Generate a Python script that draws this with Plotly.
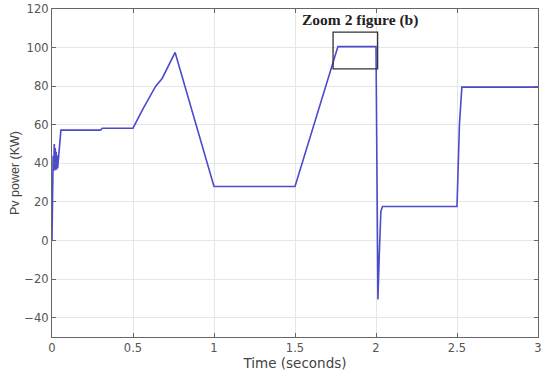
import plotly.graph_objects as go

# PV power trace (time in seconds, power in kW)
time_s = [0.0, 0.003, 0.007, 0.011, 0.014, 0.017, 0.020, 0.023, 0.026, 0.029,
          0.032, 0.035, 0.045, 0.055, 0.30, 0.31, 0.50, 0.56, 0.64, 0.68,
          0.76, 1.0, 1.5, 1.755, 1.765, 2.0, 2.006, 2.012, 2.02, 2.03,
          2.04, 2.50, 2.515, 2.53, 3.0]
power_kw = [0.0, 30.0, 44.0, 36.0, 50.0, 37.0, 48.0, 36.5, 46.0, 37.0,
            44.0, 37.5, 50.0, 57.2, 57.2, 58.2, 58.2, 68.0, 80.0, 84.0,
            97.5, 28.0, 28.0, 99.0, 100.5, 100.5, 40.0, -30.5, -8.0, 15.0,
            17.6, 17.6, 60.0, 79.5, 79.5]

x_ticks = [0, 0.5, 1, 1.5, 2, 2.5, 3]
x_tick_text = ["0", "0.5", "1", "1.5", "2", "2.5", "3"]
y_ticks = [-40, -20, 0, 20, 40, 60, 80, 100, 120]

zoom_box_x = [1.735, 2.01]
zoom_box_y = [89, 108]
zoom_label = "Zoom 2 figure (b)"

fig = go.Figure()
fig.add_trace(go.Scatter(
    x=time_s, y=power_kw, mode="lines",
    line=dict(color="#4b4bcc", width=1.6),
    showlegend=False,
))

fig.add_shape(
    type="rect", xref="x", yref="y",
    x0=zoom_box_x[0], x1=zoom_box_x[1], y0=zoom_box_y[0], y1=zoom_box_y[1],
    line=dict(color="#333333", width=1.3),
)
fig.add_annotation(
    x=1.90, y=114.3, xref="x", yref="y",
    text="<b>" + zoom_label + "</b>", showarrow=False,
    font=dict(family="Liberation Serif, Times New Roman, serif", size=15.5, color="#222222"),
)

tick_font = dict(family="DejaVu Sans, sans-serif", size=11.5, color="#555555")

axis_common = dict(
    showline=True, linecolor="#666666", linewidth=1.3, mirror="ticks",
    ticks="inside", ticklen=4, tickcolor="#666666",
    showgrid=True, gridcolor="#e6e6e6", gridwidth=1,
    zeroline=False, tickfont=tick_font, automargin=False,
)

fig.update_xaxes(
    range=[0, 3], tickvals=x_ticks, ticktext=x_tick_text,
    ticklabeloverflow="allow",
    title=dict(text="Time (seconds)", standoff=0,
               font=dict(family="DejaVu Sans, sans-serif", size=13.5, color="#444444")),
    **axis_common,
)
fig.update_yaxes(
    range=[-50, 120], tickvals=y_ticks,
    title=dict(text="Pv power (KW)", standoff=1,
               font=dict(family="Liberation Sans, Arial, sans-serif", size=12.5, color="#444444")),
    **axis_common,
)

fig.update_layout(
    width=541, height=373,
    margin=dict(l=52, r=3, t=9, b=36),
    paper_bgcolor="white", plot_bgcolor="white",
)

fig.write_html("out.html")
